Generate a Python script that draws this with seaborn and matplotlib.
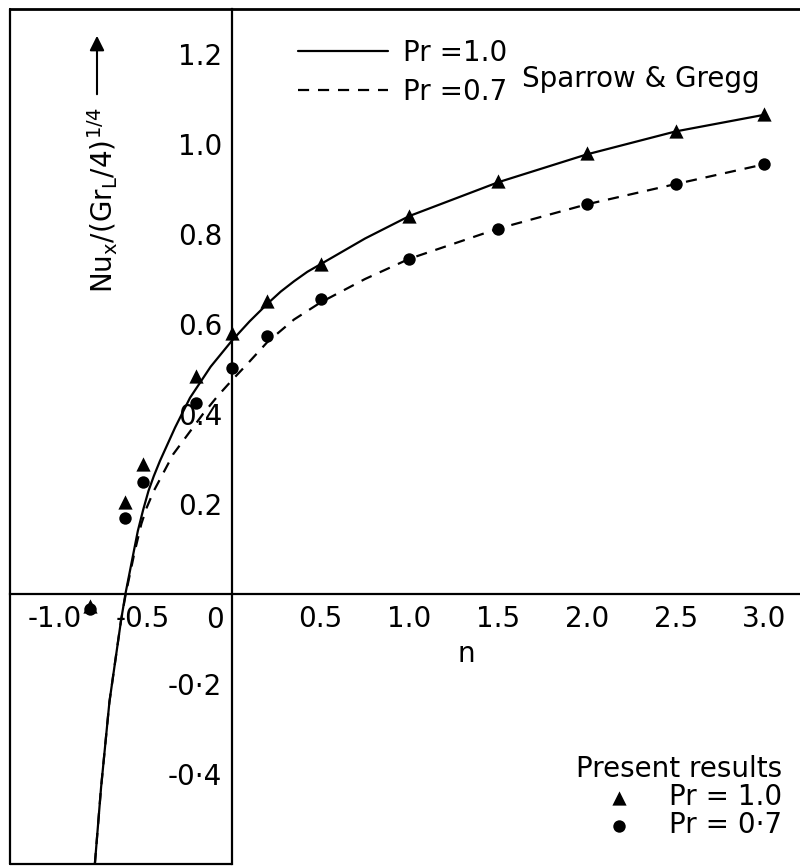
import matplotlib
matplotlib.use("Agg")
import matplotlib.pyplot as plt
import pandas as pd
import seaborn as sns

# Present results (symbols)
n_pts = [-0.8, -0.6, -0.5, -0.2, 0.0, 0.2, 0.5, 1.0, 1.5, 2.0, 2.5, 3.0]
nu_pr10 = [-0.026, 0.205, 0.29, 0.485, 0.58, 0.652, 0.733, 0.84, 0.918, 0.98, 1.03, 1.067]
nu_pr07 = [-0.033, 0.17, 0.25, 0.425, 0.502, 0.573, 0.655, 0.745, 0.812, 0.867, 0.912, 0.955]

# Sparrow & Gregg, Pr = 1.0 (solid)
n_sg10 = [-0.772, -0.737, -0.69, -0.625, -0.6, -0.53, -0.5, -0.47, -0.44, -0.405, -0.32,
          -0.236, -0.12, 0.0, 0.1, 0.2, 0.275, 0.35, 0.425, 0.5, 0.75, 1.0, 1.5, 2.0,
          2.5, 3.0]
sg_pr10 = [-0.6, -0.43, -0.24, -0.06, 0.0, 0.14, 0.187, 0.229, 0.262, 0.296, 0.37,
           0.436, 0.505, 0.563, 0.606, 0.645, 0.672, 0.695, 0.716, 0.733, 0.79, 0.84,
           0.915, 0.977, 1.028, 1.065]

# Sparrow & Gregg, Pr = 0.7 (dashed)
n_sg07 = [-0.772, -0.737, -0.69, -0.625, -0.598, -0.55, -0.51, -0.48, -0.44, -0.33,
          -0.163, -0.08, 0.0, 0.084, 0.2, 0.35, 0.5, 0.75, 1.0, 1.5, 2.0, 2.5, 3.0]
sg_pr07 = [-0.6, -0.43, -0.24, -0.06, 0.0, 0.09, 0.156, 0.192, 0.229, 0.311, 0.40,
           0.44, 0.475, 0.51, 0.56, 0.61, 0.648, 0.70, 0.745, 0.812, 0.866, 0.911, 0.955]

x_ticks = [-1.0, -0.5, 0.5, 1.0, 1.5, 2.0, 2.5, 3.0]
x_tick_labels = ["-1.0", "-0.5", "0.5", "1.0", "1.5", "2.0", "2.5", "3.0"]
y_ticks = [-0.4, -0.2, 0.2, 0.4, 0.6, 0.8, 1.0, 1.2]
y_tick_labels = ["-0\u00b74", "-0\u00b72", "0.2", "0.4", "0.6", "0.8", "1.0", "1.2"]

sns.set_theme(style="white", rc={"text.color": "black", "axes.labelcolor": "black",
                                 "xtick.color": "black", "ytick.color": "black",
                                 "legend.labelcolor": "black"})
plt.rcParams["font.family"] = ["DejaVu Sans"]
plt.rcParams["mathtext.default"] = "regular"

FS = 20
W, H = 800, 866
fig = plt.figure(figsize=(W / 100, H / 100), dpi=100)
ax = fig.add_axes([10 / W, 2 / H, 790 / W, 855 / H])
xmin, xmax, ymin, ymax = -1.25, 3.2, -0.6, 1.3
ax.set_xlim(xmin, xmax)
ax.set_ylim(ymin, ymax)

pts = pd.DataFrame({"n": n_pts, "pr10": nu_pr10, "pr07": nu_pr07})
c10 = pd.DataFrame({"n": n_sg10, "nu": sg_pr10})
c07 = pd.DataFrame({"n": n_sg07, "nu": sg_pr07})

sns.lineplot(data=c10, x="n", y="nu", ax=ax, color="black", lw=1.6,
             label="Pr =1.0", legend=False)
sns.lineplot(data=c07, x="n", y="nu", ax=ax, color="black", lw=1.6,
             linestyle=(0, (5, 4)), label="Pr =0.7", legend=False)
sns.scatterplot(data=pts, x="n", y="pr10", ax=ax, marker="^", s=105, color="black",
                linewidth=0, label="Pr = 1.0", legend=False, zorder=3)
sns.scatterplot(data=pts, x="n", y="pr07", ax=ax, marker="o", s=80, color="black",
                linewidth=0, label="Pr = 0\u00b77", legend=False, zorder=3)

# axes through the origin
for side in ("left", "bottom"):
    ax.spines[side].set_position(("data", 0))
    ax.spines[side].set_linewidth(1.6)
    ax.spines[side].set_color("black")
ax.spines["right"].set_visible(False)
ax.spines["top"].set_linewidth(2.0)
ax.spines["top"].set_color("black")

# outer frame: left edge and the lower-left piece
ax.plot([0, 0], [0, 1], transform=ax.transAxes, color="black", lw=1.6, clip_on=False)
frac0 = (0 - xmin) / (xmax - xmin)
ax.plot([0, frac0], [0, 0], transform=ax.transAxes, color="black", lw=1.6, clip_on=False)

ax.set_xticks(x_ticks)
ax.set_xticklabels(x_tick_labels)
ax.set_yticks(y_ticks)
ax.set_yticklabels(y_tick_labels)
ax.tick_params(axis="both", direction="in", length=6.5, width=1.5, colors="black",
               labelsize=FS)
ax.tick_params(axis="x", pad=8)
ax.tick_params(axis="y", pad=7)
ax.set_xlabel("")
ax.set_ylabel("")

ax.annotate("0", xy=(0, 0), xytext=(-6, -9), textcoords="offset points",
            ha="right", va="top", fontsize=FS, color="black")
ax.text(1.32, -0.133, "n", ha="center", va="center", fontsize=FS, color="black")
ax.text(1.632, 1.144, "Sparrow & Gregg", ha="left", va="center", fontsize=FS,
        color="black")

# y-axis title with an upward arrow
fig.text(103 / W, 1 - 200 / H, r"$Nu_x/(Gr_L/4)^{1/4}$", rotation=90,
         ha="center", va="center", fontsize=FS, color="black")
ax.annotate("", xy=(97, H - 33), xytext=(97, H - 97), xycoords="figure pixels",
            textcoords="figure pixels",
            arrowprops=dict(arrowstyle="-|>", color="black", lw=1.5, mutation_scale=22))

handles, labels = ax.get_legend_handles_labels()
hmap = dict(zip(labels, handles))

leg1 = ax.legend(handles=[hmap["Pr =1.0"], hmap["Pr =0.7"]], labels=["Pr =1.0", "Pr =0.7"],
                 loc="upper left", bbox_to_anchor=(298 / W, 1 - 39 / H),
                 bbox_transform=fig.transFigure, frameon=False, borderpad=0,
                 borderaxespad=0, handlelength=3.24, handletextpad=0.54,
                 labelspacing=0.4, fontsize=FS, labelcolor="black")
ax.add_artist(leg1)

leg2 = ax.legend(handles=[hmap["Pr = 1.0"], hmap["Pr = 0\u00b77"]],
                 labels=["Pr = 1.0", "Pr = 0\u00b77"], title="Present results",
                 title_fontsize=FS, fontsize=FS, loc="lower right",
                 bbox_to_anchor=(782 / W, 27 / H), bbox_transform=fig.transFigure,
                 alignment="right", frameon=False, borderpad=0, borderaxespad=0,
                 handlelength=1.0, handletextpad=1.3, labelspacing=0.0,
                 labelcolor="black")
leg2.get_title().set_color("black")

fig.savefig("out.png", dpi=100)
